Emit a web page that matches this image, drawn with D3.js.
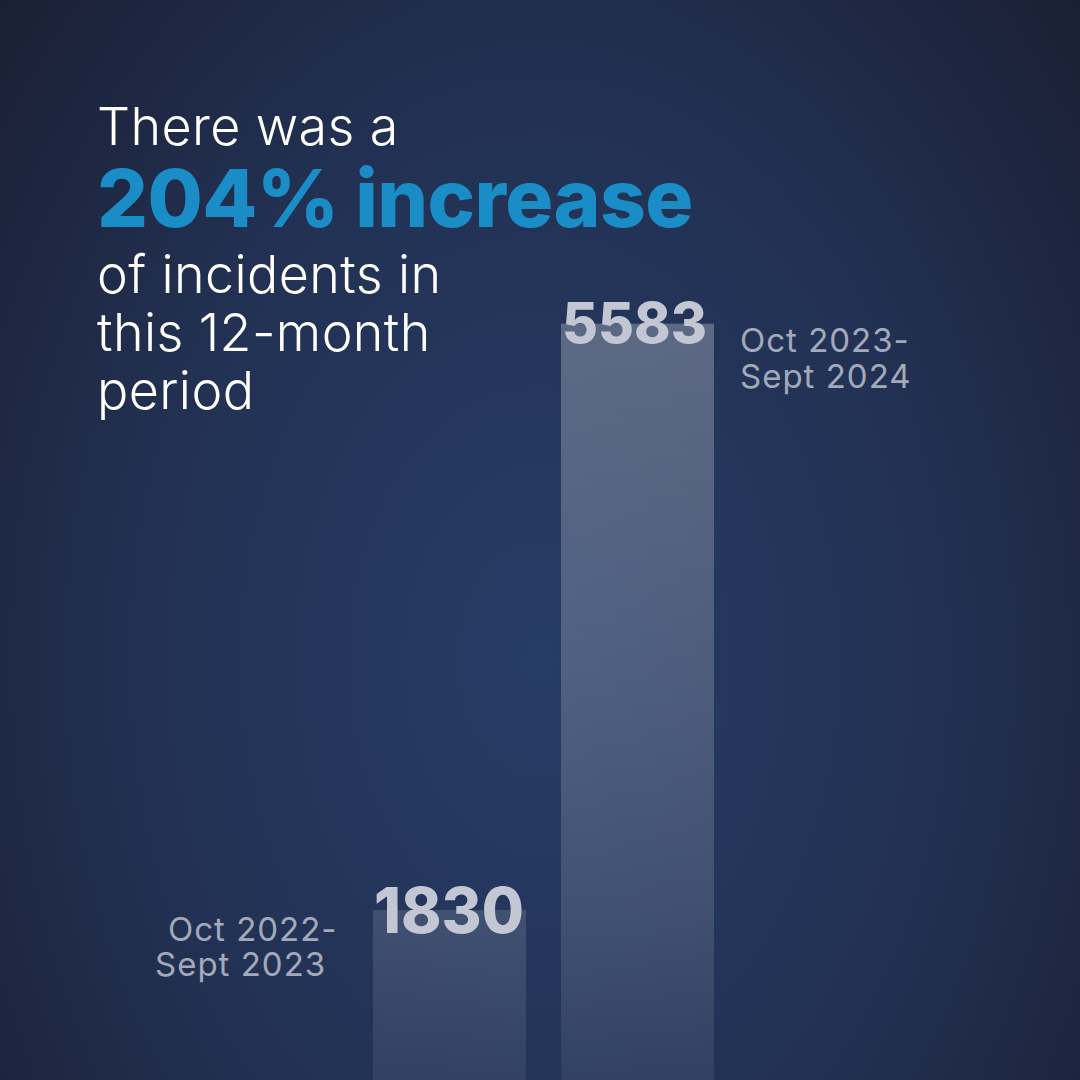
<!DOCTYPE html>
<html>
<head>
<meta charset="utf-8">
<script src="https://cdn.jsdelivr.net/npm/d3@7"></script>
<style>
  html, body { margin: 0; padding: 0; background: #1c2238; }
  svg { display: block; }
  text { font-family: Inter, "Open Sans", sans-serif; }
</style>
</head>
<body>
<svg id="chart" width="1080" height="1080"></svg>
<script>
// ---- data ----
const categories = ["Oct 2022-Sept 2023", "Oct 2023-Sept 2024"];
const values = [1830, 5583];
const periodLines = [["Oct 2022-", "Sept 2023"], ["Oct 2023-", "Sept 2024"]];
const titleLines = ["There was a", "204% increase", "of incidents in", "this 12-month", "period"];

const W = 1080, H = 1080;
const svg = d3.select("#chart");
const defs = svg.append("defs");

// background gradient
const bg = defs.append("radialGradient")
  .attr("id", "bg").attr("gradientUnits", "userSpaceOnUse")
  .attr("cx", 540).attr("cy", 660).attr("r", 760)
  .attr("gradientTransform", "translate(540,660) scale(0.95,1.35) translate(-540,-660)");
bg.append("stop").attr("offset", 0).attr("stop-color", "#273c66");
bg.append("stop").attr("offset", 0.55).attr("stop-color", "#223153");
bg.append("stop").attr("offset", 1).attr("stop-color", "#1a1f33");
svg.append("rect").attr("width", W).attr("height", H).attr("fill", "url(#bg)");

// scales
const x = d3.scaleBand().domain(categories).range([373, 714]).paddingInner(0.186).paddingOuter(0);
const y = d3.scaleLinear().domain([0, d3.max(values)]).range([1196, 323.7]);

// bar gradient (shared, in page space)
const bargrad = defs.append("linearGradient")
  .attr("id", "bargrad").attr("gradientUnits", "userSpaceOnUse")
  .attr("x1", 0).attr("y1", y(d3.max(values))).attr("x2", 0).attr("y2", H);
bargrad.append("stop").attr("offset", 0).attr("stop-color", "#ffffff").attr("stop-opacity", 0.26);
bargrad.append("stop").attr("offset", 0.5).attr("stop-color", "#ffffff").attr("stop-opacity", 0.18);
bargrad.append("stop").attr("offset", 0.78).attr("stop-color", "#ffffff").attr("stop-opacity", 0.13);
bargrad.append("stop").attr("offset", 1).attr("stop-color", "#ffffff").attr("stop-opacity", 0.07);

const data = categories.map((c, i) => ({ cat: c, v: values[i], lines: periodLines[i] }));

// bars
svg.selectAll("rect.bar").data(data).join("rect")
  .attr("class", "bar")
  .attr("x", d => x(d.cat))
  .attr("y", d => y(d.v))
  .attr("width", x.bandwidth())
  .attr("height", d => y(0) - y(d.v))
  .attr("fill", "url(#bargrad)");

// value labels
const valSize = [63, 56];
const valWidth = [150, 145];
const valOffset = [23, 19.5];
svg.selectAll("text.val").data(data).join("text")
  .attr("class", "val")
  .attr("x", d => x(d.cat) + 1)
  .attr("y", (d, i) => y(d.v) + valOffset[i])
  .attr("font-size", (d, i) => valSize[i])
  .attr("font-weight", 800)
  .attr("fill", "#c2c7d3")
  .attr("textLength", (d, i) => valWidth[i])
  .attr("lengthAdjust", "spacingAndGlyphs")
  .text(d => d3.format("d")(d.v));

// period labels
const periodX = [[168, 155], [740, 740]];
const periodY = [[941, 976], [352, 388]];
data.forEach((d, i) => {
  svg.append("g").selectAll("text").data(d.lines).join("text")
    .attr("x", (t, j) => periodX[i][j])
    .attr("y", (t, j) => periodY[i][j])
    .attr("font-size", 33)
    .attr("font-weight", 400)
    .attr("letter-spacing", 1)
    .attr("fill", "#a2a9b9")
    .text(t => t);
});

// title
const tY = [145, 227, 293, 351, 409];
const tSize = [52, 80, 52, 52, 52];
svg.append("g").selectAll("text").data(titleLines).join("text")
  .attr("x", 97)
  .attr("y", (t, i) => tY[i])
  .attr("font-size", (t, i) => tSize[i])
  .attr("font-weight", (t, i) => i === 1 ? 800 : 300)
  .attr("letter-spacing", (t, i) => i === 1 ? -0.6 : 0.4)
  .attr("fill", (t, i) => i === 1 ? "#1a8cc6" : "#ffffff")
  .text(t => t);
</script>
</body>
</html>
